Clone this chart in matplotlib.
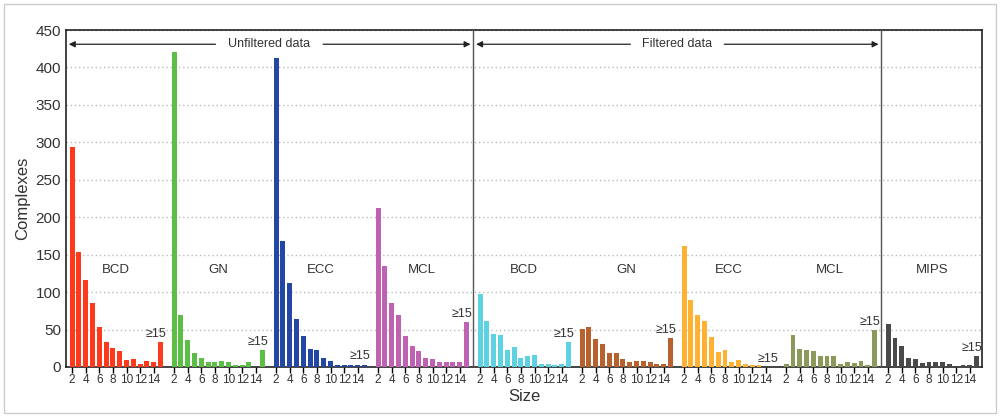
import matplotlib
matplotlib.use('Agg')
import matplotlib.pyplot as plt
from matplotlib.patches import Rectangle
import numpy as np

plt.rcParams['font.family'] = ['Liberation Sans', 'DejaVu Sans']

# Data: complexes per size (2..14, then >=15)
sizes = list(range(2, 16))
groups = ['BCD', 'GN', 'ECC', 'MCL', 'BCD', 'GN', 'ECC', 'MCL', 'MIPS']
bcd_u = [294, 153, 116, 85, 53, 33, 25, 21, 9, 10, 4, 8, 6, 33]
gn_u = [420, 69, 36, 18, 12, 6, 6, 8, 6, 3, 3, 6, 0, 22]
ecc_u = [412, 168, 112, 64, 41, 24, 23, 12, 8, 2, 2, 3, 2, 3]
mcl_u = [212, 135, 85, 70, 42, 28, 21, 12, 10, 7, 7, 7, 7, 60]
bcd_f = [97, 62, 44, 43, 23, 27, 12, 15, 16, 4, 4, 2, 4, 33]
gn_f = [51, 54, 37, 31, 19, 18, 11, 7, 8, 8, 6, 4, 4, 39]
ecc_f = [162, 89, 70, 62, 40, 20, 22, 7, 9, 4, 2, 3, 0, 0]
mcl_f = [4, 43, 24, 23, 21, 14, 14, 14, 4, 6, 5, 8, 2, 49]
mips = [57, 39, 28, 12, 10, 5, 7, 6, 6, 4, 1, 3, 3, 14]
series = [bcd_u, gn_u, ecc_u, mcl_u, bcd_f, gn_f, ecc_f, mcl_f, mips]
colors = ['#ff3a1c', '#5cbf45', '#2447a6', '#c062b2', '#5dd2e2',
          '#b8612f', '#ffb131', '#8b9a5b', '#4a4a4a']
tick_sizes = [2, 4, 6, 8, 10, 12, 14]

fig = plt.figure(figsize=(10, 4.17), dpi=100)
ax = fig.add_axes([0.066, 0.12, 0.916, 0.808])

step = 15  # 14 bars + 1 gap per group
tick_pos, tick_lab = [], []
for i, (vals, col, name) in enumerate(zip(series, colors, groups)):
    x = i * step + np.arange(len(vals))
    ax.bar(x, vals, width=0.72, color=col, zorder=3)
    ax.text(x[-1] - 0.7, vals[-1] + 3, '≥15', ha='center', va='bottom',
            fontsize=9, color='#333333')
    ax.text(i * step + 6.5, 130, name, ha='center', va='center',
            fontsize=9.5, color='#333333')
    for s in tick_sizes:
        tick_pos.append(i * step + s - 2)
        tick_lab.append(str(s))

ax.set_xticks(tick_pos)
ax.set_xticklabels(tick_lab, fontsize=8.5, color='#333333')
ax.tick_params(axis='x', length=4, width=1, pad=1)
ax.set_xlim(-0.9, 133.8)
ax.set_ylim(0, 450)
ax.set_yticks(np.arange(0, 451, 50))
ax.tick_params(axis='y', labelsize=11, length=0, labelcolor='#333333')
ax.yaxis.grid(True, linestyle=(0, (1, 2)), color='#bbbbbb', linewidth=1, zorder=0)
for sp in ax.spines.values():
    sp.set_linewidth(1.2)
    sp.set_color('#222222')
ax.set_ylabel('Complexes', fontsize=12, color='#333333')
ax.set_xlabel('Size', fontsize=12, color='#333333', labelpad=2)

# Separators and section arrows
for xv in [59, 119]:
    ax.axvline(xv, color='#555555', linewidth=1, zorder=4)
ya = 431
arrow = dict(arrowstyle='-|>', color='#222222', lw=0.9, mutation_scale=9)
ax.text(29, ya, 'Unfiltered data', ha='center', va='center', fontsize=9, color='#333333')
ax.annotate('', xy=(-0.9, ya), xytext=(21.5, ya), arrowprops=arrow)
ax.annotate('', xy=(59, ya), xytext=(36.5, ya), arrowprops=arrow)
ax.text(89, ya, 'Filtered data', ha='center', va='center', fontsize=9, color='#333333')
ax.annotate('', xy=(59, ya), xytext=(82.5, ya), arrowprops=arrow)
ax.annotate('', xy=(119, ya), xytext=(95.5, ya), arrowprops=arrow)

fig.patches.append(Rectangle((0.004, 0.01), 0.992, 0.98, transform=fig.transFigure,
                             fill=False, edgecolor='#cccccc', linewidth=1))

fig.savefig('out.png', dpi=100)
